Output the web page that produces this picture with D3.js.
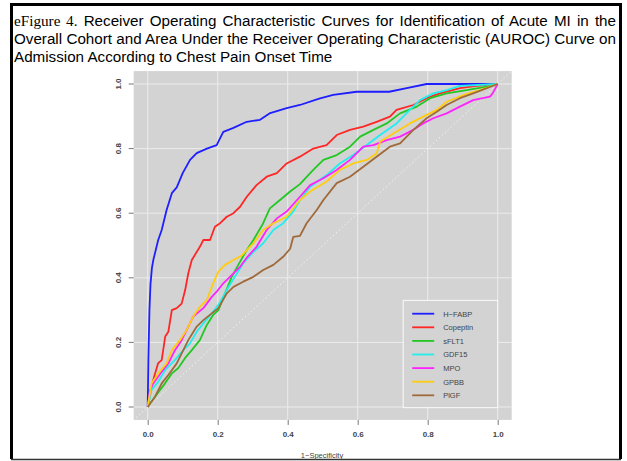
<!DOCTYPE html>
<html><head><meta charset="utf-8">
<script src="https://cdn.jsdelivr.net/npm/d3@7"></script>
<style>html,body{margin:0;padding:0;background:#fff;}svg{display:block;}</style>
</head><body>
<svg id="c" width="627" height="461"></svg>
<script>
const titleLines = [
  ["eFigure 4.", " Receiver Operating Characteristic Curves for Identification of Acute MI in the"],
  ["", "Overall Cohort and Area Under the Receiver Operating Characteristic (AUROC) Curve on"],
  ["", "Admission According to Chest Pain Onset Time"]
];
const xLabel = "1\u2212Specificity";
const xTicks = [0, 0.2, 0.4, 0.6, 0.8, 1.0];
const yTicks = [0, 0.2, 0.4, 0.6, 0.8, 1.0];
const seriesNames = ["H\u2212FABP", "Copeptin", "sFLT1", "GDF15", "MPO", "GPBB", "PlGF"];
const seriesColors = ["#1e1eff", "#ff2626", "#22c822", "#22eeee", "#ff22ff", "#ffcc11", "#a0693a"];

const hfabp = [[0,0],[0.002,0.15],[0.005,0.3],[0.008,0.38],[0.012,0.43],[0.016,0.455],[0.03,0.517],[0.04,0.548],[0.054,0.61],[0.069,0.662],[0.083,0.68],[0.1,0.724],[0.121,0.765],[0.14,0.786],[0.169,0.8],[0.197,0.811],[0.216,0.852],[0.245,0.864],[0.283,0.883],[0.321,0.889],[0.35,0.91],[0.397,0.925],[0.435,0.935],[0.49,0.955],[0.53,0.966],[0.597,0.976],[0.69,0.976],[0.74,0.987],[0.797,1.0],[1,1]];
const copeptin = [[0,0],[0.01,0.06],[0.02,0.1],[0.03,0.136],[0.04,0.145],[0.05,0.218],[0.059,0.233],[0.069,0.3],[0.083,0.306],[0.097,0.32],[0.107,0.362],[0.116,0.414],[0.126,0.455],[0.149,0.496],[0.159,0.517],[0.178,0.517],[0.192,0.558],[0.207,0.569],[0.226,0.589],[0.245,0.6],[0.264,0.62],[0.283,0.651],[0.311,0.687],[0.34,0.713],[0.369,0.724],[0.397,0.754],[0.435,0.775],[0.473,0.8],[0.511,0.811],[0.54,0.842],[0.578,0.858],[0.616,0.868],[0.654,0.883],[0.692,0.899],[0.711,0.92],[0.759,0.935],[0.797,0.956],[0.835,0.971],[0.892,0.987],[0.94,0.994],[1,1]];
const sflt1 = [[0,0],[0.021,0.032],[0.05,0.074],[0.069,0.104],[0.087,0.12],[0.107,0.152],[0.126,0.176],[0.149,0.207],[0.169,0.254],[0.187,0.285],[0.202,0.3],[0.221,0.352],[0.24,0.403],[0.264,0.45],[0.283,0.486],[0.302,0.517],[0.33,0.569],[0.349,0.615],[0.378,0.641],[0.407,0.667],[0.435,0.69],[0.473,0.734],[0.502,0.765],[0.54,0.78],[0.578,0.806],[0.607,0.837],[0.645,0.858],[0.683,0.878],[0.721,0.909],[0.769,0.93],[0.807,0.956],[0.854,0.971],[0.911,0.981],[0.969,0.992],[1,1]];
const gdf15 = [[0,0],[0.011,0.053],[0.03,0.078],[0.05,0.115],[0.078,0.146],[0.102,0.176],[0.121,0.197],[0.14,0.233],[0.159,0.259],[0.183,0.29],[0.202,0.316],[0.226,0.362],[0.249,0.403],[0.273,0.445],[0.302,0.48],[0.33,0.507],[0.359,0.548],[0.387,0.569],[0.416,0.605],[0.435,0.64],[0.464,0.682],[0.511,0.718],[0.549,0.754],[0.587,0.78],[0.626,0.811],[0.664,0.842],[0.711,0.878],[0.749,0.92],[0.778,0.95],[0.816,0.971],[0.854,0.981],[0.892,0.994],[1,1]];
const mpo = [[0,0],[0.007,0.053],[0.016,0.073],[0.04,0.109],[0.059,0.135],[0.078,0.176],[0.097,0.207],[0.116,0.249],[0.13,0.28],[0.159,0.306],[0.183,0.341],[0.197,0.357],[0.216,0.383],[0.235,0.403],[0.264,0.434],[0.285,0.465],[0.311,0.496],[0.34,0.548],[0.369,0.584],[0.397,0.605],[0.435,0.651],[0.464,0.687],[0.502,0.708],[0.54,0.734],[0.578,0.765],[0.616,0.806],[0.645,0.811],[0.683,0.826],[0.721,0.837],[0.759,0.858],[0.787,0.878],[0.816,0.894],[0.854,0.909],[0.892,0.93],[0.93,0.95],[0.978,0.961],[0.985,0.97],[1,1]];
const gpbb = [[0,0],[0.011,0.073],[0.03,0.104],[0.054,0.135],[0.069,0.176],[0.092,0.207],[0.111,0.238],[0.13,0.28],[0.149,0.31],[0.169,0.331],[0.187,0.383],[0.202,0.419],[0.221,0.44],[0.245,0.455],[0.27,0.47],[0.302,0.507],[0.33,0.548],[0.359,0.569],[0.397,0.589],[0.435,0.641],[0.464,0.667],[0.511,0.698],[0.549,0.734],[0.587,0.754],[0.626,0.765],[0.654,0.785],[0.664,0.821],[0.702,0.847],[0.749,0.878],[0.787,0.899],[0.826,0.92],[0.854,0.945],[0.902,0.966],[0.949,0.981],[1,1]];
const plgf = [[0,0],[0.021,0.032],[0.04,0.073],[0.059,0.099],[0.083,0.135],[0.097,0.166],[0.116,0.207],[0.14,0.249],[0.159,0.269],[0.183,0.29],[0.202,0.306],[0.226,0.352],[0.245,0.372],[0.273,0.388],[0.302,0.403],[0.33,0.424],[0.359,0.44],[0.387,0.465],[0.407,0.49],[0.416,0.527],[0.435,0.53],[0.454,0.569],[0.483,0.61],[0.502,0.641],[0.54,0.693],[0.578,0.713],[0.616,0.744],[0.654,0.775],[0.692,0.806],[0.721,0.816],[0.759,0.858],[0.797,0.894],[0.826,0.914],[0.854,0.935],[0.892,0.956],[0.93,0.971],[0.969,0.987],[1,1]];
const seriesData = [hfabp, copeptin, sflt1, gdf15, mpo, gpbb, plgf];

const svg = d3.select("#c");

// frame
svg.append("path").attr("d", "M11.5,459 L11.5,4.5 L620.5,4.5 L620.5,459")
  .attr("fill", "none").attr("stroke", "#000").attr("stroke-width", 3);
svg.append("line").attr("x1", 11).attr("x2", 621).attr("y1", 459.5).attr("y2", 459.5)
  .attr("stroke", "#333").attr("stroke-width", 1.5);

// title
const tFont = "'Liberation Sans', Arial, sans-serif";
const baselines = [26, 44, 62];
const tLeft = 14, tRight = 616;
titleLines.forEach((ln, i) => {
  const t = svg.append("text").attr("x", tLeft).attr("y", baselines[i])
    .attr("font-size", 15.2).attr("fill", "#000").attr("font-family", tFont);
  if (ln[0]) t.append("tspan").attr("font-family", "'Liberation Serif','DejaVu Serif',serif").text(ln[0]);
  t.append("tspan").text(ln[1]);
  if (i < 2) {
    const w = t.node().getComputedTextLength();
    const full = ln[0] + ln[1];
    const nSp = (full.match(/ /g) || []).length;
    const ws = (tRight - tLeft - w) / nSp;
    t.attr("word-spacing", ws);
  }
});

// plot
const x0 = 147.7, x1 = 497.7, y0 = 407, y1 = 84;
const x = d3.scaleLinear().domain([0, 1]).range([x0, x1]);
const y = d3.scaleLinear().domain([0, 1]).range([y0, y1]);
const px0 = x(-0.04), px1 = x(1.04), py0 = y(-0.04), py1 = y(1.04);

svg.append("rect").attr("x", px0).attr("y", py1).attr("width", px1 - px0).attr("height", py0 - py1)
  .attr("fill", "#d3d3d3");

svg.append("clipPath").attr("id", "clip").append("rect")
  .attr("x", px0).attr("y", py1).attr("width", px1 - px0).attr("height", py0 - py1);

const grid = svg.append("g");
xTicks.forEach(v => grid.append("line").attr("x1", x(v)).attr("x2", x(v)).attr("y1", py1).attr("y2", py0)
  .attr("stroke", "#ececec").attr("stroke-width", 1));
yTicks.forEach(v => grid.append("line").attr("y1", y(v)).attr("y2", y(v)).attr("x1", px0).attr("x2", px1)
  .attr("stroke", "#ececec").attr("stroke-width", 1));

// diagonal
svg.append("line").attr("clip-path", "url(#clip)")
  .attr("x1", x(-0.05)).attr("y1", y(-0.05)).attr("x2", x(1.05)).attr("y2", y(1.05))
  .attr("stroke", "#f2f2f2").attr("stroke-width", 1).attr("stroke-dasharray", "1.5,2.5");

// axes
const aFont = "'Liberation Sans', Arial, sans-serif";
const xAxis = svg.append("g").attr("transform", `translate(0,${py0})`)
  .call(d3.axisBottom(x).tickValues(xTicks).tickFormat(d3.format(".1f")).tickSize(5).tickPadding(6));
xAxis.select(".domain").remove();
xAxis.selectAll("line").attr("stroke", "#777");
xAxis.selectAll("text").attr("font-size", 8).attr("font-family", aFont).attr("fill", "#444").attr("font-weight", "bold");

const yAxis = svg.append("g").attr("transform", `translate(${px0},0)`)
  .call(d3.axisLeft(y).tickValues(yTicks).tickFormat(d3.format(".1f")).tickSize(5).tickPadding(6));
yAxis.select(".domain").remove();
yAxis.selectAll("line").attr("stroke", "#777");
yAxis.selectAll("text").attr("font-size", 8).attr("font-family", aFont).attr("fill", "#444").attr("font-weight", "bold")
  .attr("text-anchor", "middle").attr("dy", null)
  .attr("transform", function(d){ return `translate(${-13},${y(d)}) rotate(-90)`; })
  .attr("x", 0).attr("y", 0);
yAxis.selectAll(".tick").attr("transform", function(d){ return "translate(0,0)"; });
yAxis.selectAll(".tick line").attr("y1", d => y(d)).attr("y2", d => y(d));

svg.append("text").attr("x", 322).attr("y", 458).attr("text-anchor", "middle")
  .attr("font-size", 7.5).attr("font-family", aFont).attr("fill", "#444").text(xLabel);

// curves
const line = d3.line().x(d => x(d[0])).y(d => y(d[1]));
const curves = svg.append("g").attr("clip-path", "url(#clip)");
seriesData.forEach((s, i) => {
  curves.append("path").attr("d", line(s)).attr("fill", "none")
    .attr("stroke", seriesColors[i]).attr("stroke-width", 1.8).attr("stroke-linejoin", "round");
});

// legend
const lg = svg.append("g");
const lx0 = x(0.73), lx1 = x(1.0), ly1 = y(0.33), ly0 = y(-0.002);
lg.append("rect").attr("x", lx0).attr("y", ly1).attr("width", lx1 - lx0).attr("height", ly0 - ly1)
  .attr("fill", "#d3d3d3").attr("stroke", "#fafafa").attr("stroke-width", 1);
seriesNames.forEach((n, i) => {
  const yy = ly1 + 13.3 + i * 13.6;
  lg.append("line").attr("x1", lx0 + 9).attr("x2", lx0 + 31).attr("y1", yy).attr("y2", yy)
    .attr("stroke", seriesColors[i]).attr("stroke-width", 1.8);
  lg.append("text").attr("x", lx0 + 40).attr("y", yy + 2.8).attr("font-size", 7.5)
    .attr("font-family", aFont).attr("fill", "#444").text(n);
});
</script>
</body></html>
